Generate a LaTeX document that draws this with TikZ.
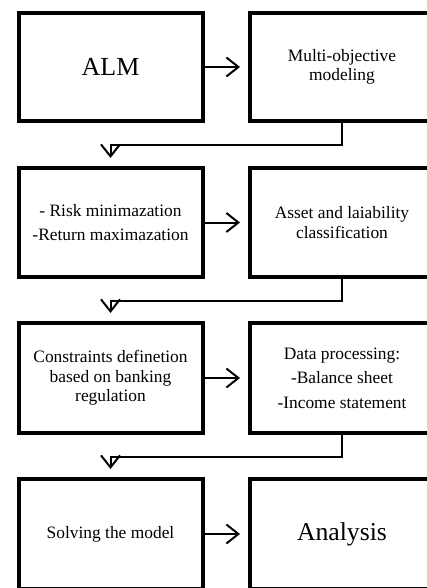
\documentclass[tikz,border=0pt]{standalone}
\usepackage{fontspec}
\setmainfont{Liberation Serif}
\usetikzlibrary{arrows.meta}

\tikzset{
	stagebox/.style={draw,line width=4pt,minimum width=184pt,minimum height=108pt,align=center,font=\fontsize{17.4}{19.5}\selectfont},
	flow/.style={line width=2pt,-{Straight Barb[length=12pt,width=19pt]},shorten >=8pt}
}

\begin{document}
\begin{tikzpicture}[x=1pt,y=-1pt]
		\useasboundingbox (0,0) rectangle (426,588);
		% first row
		\node[stagebox,font=\fontsize{26}{30}\selectfont] (alm) at (110.5,67) {ALM};
		\node[stagebox] (moo) at (342,67) {Multi-objective\\modeling};
		% second row
		\node[stagebox,minimum height=109pt] (risk) at (110.5,222.5) {- Risk minimazation\\[5pt]-Return maximazation};
		\node[stagebox,minimum height=109pt] (asset) at (342,222.5) {Asset and laiability\\classification};
		% third row
		\node[stagebox,minimum height=110pt] (cons) at (110.5,378) {Constraints definetion\\based on banking\\regulation};
		\node[stagebox,minimum height=110pt] (data) at (342,378) {Data processing:\\[5pt]-Balance sheet\\[5pt]-Income statement};
		% last row
		\node[stagebox,minimum height=110pt] (solve) at (110.5,534) {Solving the model};
		\node[stagebox,minimum height=110pt,font=\fontsize{25.7}{30}\selectfont] (ana) at (342,534) {Analysis};

		\foreach \a/\b in {alm/moo,risk/asset,cons/data,solve/ana}
		\draw[flow] (\a.east) -- (\b.west);
		\foreach \a/\b in {moo/risk,asset/cons,data/solve}
		\draw[flow] (\a.south) -- ++(0,22) -| (\b.north);

	    \end{tikzpicture}
\end{document}
